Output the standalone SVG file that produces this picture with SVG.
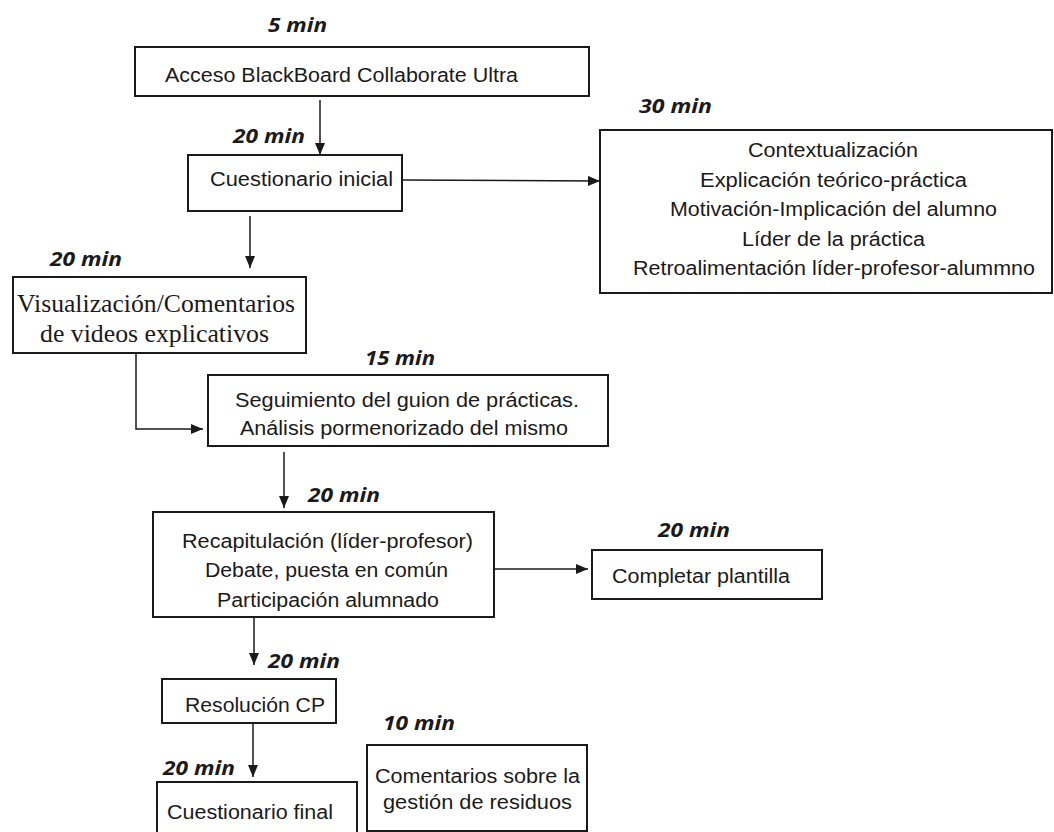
<svg xmlns="http://www.w3.org/2000/svg" width="1054" height="832" viewBox="0 0 1054 832">
<defs>
<marker id="arr" markerWidth="12" markerHeight="10" refX="12" refY="5" orient="auto" markerUnits="userSpaceOnUse">
<path d="M0,0 L12,5 L0,10 Z" fill="#1a1a1a"/>
</marker>
</defs>
<style>
.box{fill:#fff;stroke:#1a1a1a;stroke-width:2}
.t{font-family:"Liberation Sans",Arial,sans-serif;font-size:19.5px;fill:#1a1a1a}
.s{font-family:"Liberation Serif","Times New Roman",serif;font-size:25.5px;fill:#1a1a1a}
.m{font-family:"Open Sans","Liberation Sans",sans-serif;font-size:20px;font-weight:bold;font-style:italic;fill:#1a1a1a}
.c{fill:none;stroke:#1a1a1a;stroke-width:1.5;marker-end:url(#arr)}
</style>
<rect width="1054" height="832" fill="#fff"/>
<g id="connectors">
<path class="c" d="M320,100 V155"/>
<path class="c" d="M402,180 L600,181"/>
<path class="c" d="M250,216 V268"/>
<path class="c" d="M136,353 V429 H203"/>
<path class="c" d="M284,452 V508"/>
<path class="c" d="M494,569 H588"/>
<path class="c" d="M254,617 V665"/>
<path class="c" d="M253,723 V777"/>
</g>
<g id="n1">
<rect class="box" x="135" y="47" width="454" height="49"/>
<text class="m" x="268" y="32" textLength="59" lengthAdjust="spacingAndGlyphs">5 min</text>
<text class="t" x="165" y="82" textLength="353" lengthAdjust="spacingAndGlyphs">Acceso BlackBoard Collaborate Ultra</text>
</g>
<g id="n2">
<rect class="box" x="188" y="155" width="214" height="56"/>
<text class="m" x="233" y="143" textLength="72" lengthAdjust="spacingAndGlyphs">20 min</text>
<text class="t" x="210" y="186" textLength="183" lengthAdjust="spacingAndGlyphs">Cuestionario inicial</text>
</g>
<g id="n3">
<rect class="box" x="600" y="130" width="452" height="163"/>
<text class="m" x="639" y="113" textLength="73" lengthAdjust="spacingAndGlyphs">30 min</text>
<text class="t" x="748" y="157" textLength="170" lengthAdjust="spacingAndGlyphs">Contextualización</text>
<text class="t" x="700" y="187" textLength="267" lengthAdjust="spacingAndGlyphs">Explicación teórico-práctica</text>
<text class="t" x="670" y="216" textLength="327" lengthAdjust="spacingAndGlyphs">Motivación-Implicación del alumno</text>
<text class="t" x="742" y="246" textLength="183" lengthAdjust="spacingAndGlyphs">Líder de la práctica</text>
<text class="t" x="633" y="275" textLength="402" lengthAdjust="spacingAndGlyphs">Retroalimentación líder-profesor-alummno</text>
</g>
<g id="n4">
<rect class="box" x="13" y="277" width="293" height="76"/>
<text class="m" x="50" y="266" textLength="72" lengthAdjust="spacingAndGlyphs">20 min</text>
<text class="s" x="17" y="312" textLength="278" lengthAdjust="spacingAndGlyphs">Visualización/Comentarios</text>
<text class="s" x="40" y="342" textLength="229" lengthAdjust="spacingAndGlyphs">de videos explicativos</text>
</g>
<g id="n5">
<rect class="box" x="208" y="375" width="400" height="71"/>
<text class="m" x="365" y="365" textLength="70" lengthAdjust="spacingAndGlyphs">15 min</text>
<text class="t" x="235" y="407" textLength="344" lengthAdjust="spacingAndGlyphs">Seguimiento del guion de prácticas.</text>
<text class="t" x="240" y="435" textLength="328" lengthAdjust="spacingAndGlyphs">Análisis pormenorizado del mismo</text>
</g>
<g id="n6">
<rect class="box" x="153" y="512" width="341" height="105"/>
<text class="m" x="308" y="502" textLength="72" lengthAdjust="spacingAndGlyphs">20 min</text>
<text class="t" x="182" y="548" textLength="291" lengthAdjust="spacingAndGlyphs">Recapitulación (líder-profesor)</text>
<text class="t" x="205" y="577" textLength="243" lengthAdjust="spacingAndGlyphs">Debate, puesta en común</text>
<text class="t" x="217" y="607" textLength="222" lengthAdjust="spacingAndGlyphs">Participación alumnado</text>
</g>
<g id="n7">
<rect class="box" x="592" y="550" width="230" height="49"/>
<text class="m" x="658" y="537" textLength="72" lengthAdjust="spacingAndGlyphs">20 min</text>
<text class="t" x="612" y="583" textLength="178" lengthAdjust="spacingAndGlyphs">Completar plantilla</text>
</g>
<g id="n8">
<rect class="box" x="162" y="679" width="174" height="44"/>
<text class="m" x="268" y="668" textLength="72" lengthAdjust="spacingAndGlyphs">20 min</text>
<text class="t" x="185" y="712" textLength="140" lengthAdjust="spacingAndGlyphs">Resolución CP</text>
</g>
<g id="n9">
<rect class="box" x="157" y="782" width="200" height="60"/>
<text class="m" x="163" y="775" textLength="72" lengthAdjust="spacingAndGlyphs">20 min</text>
<text class="t" x="167" y="819" textLength="166" lengthAdjust="spacingAndGlyphs">Cuestionario final</text>
</g>
<g id="n10">
<rect class="box" x="367" y="745" width="220" height="86"/>
<text class="m" x="383" y="730" textLength="72" lengthAdjust="spacingAndGlyphs">10 min</text>
<text class="t" x="375" y="783" textLength="205" lengthAdjust="spacingAndGlyphs">Comentarios sobre la</text>
<text class="t" x="383" y="809" textLength="189" lengthAdjust="spacingAndGlyphs">gestión de residuos</text>
</g>
</svg>
